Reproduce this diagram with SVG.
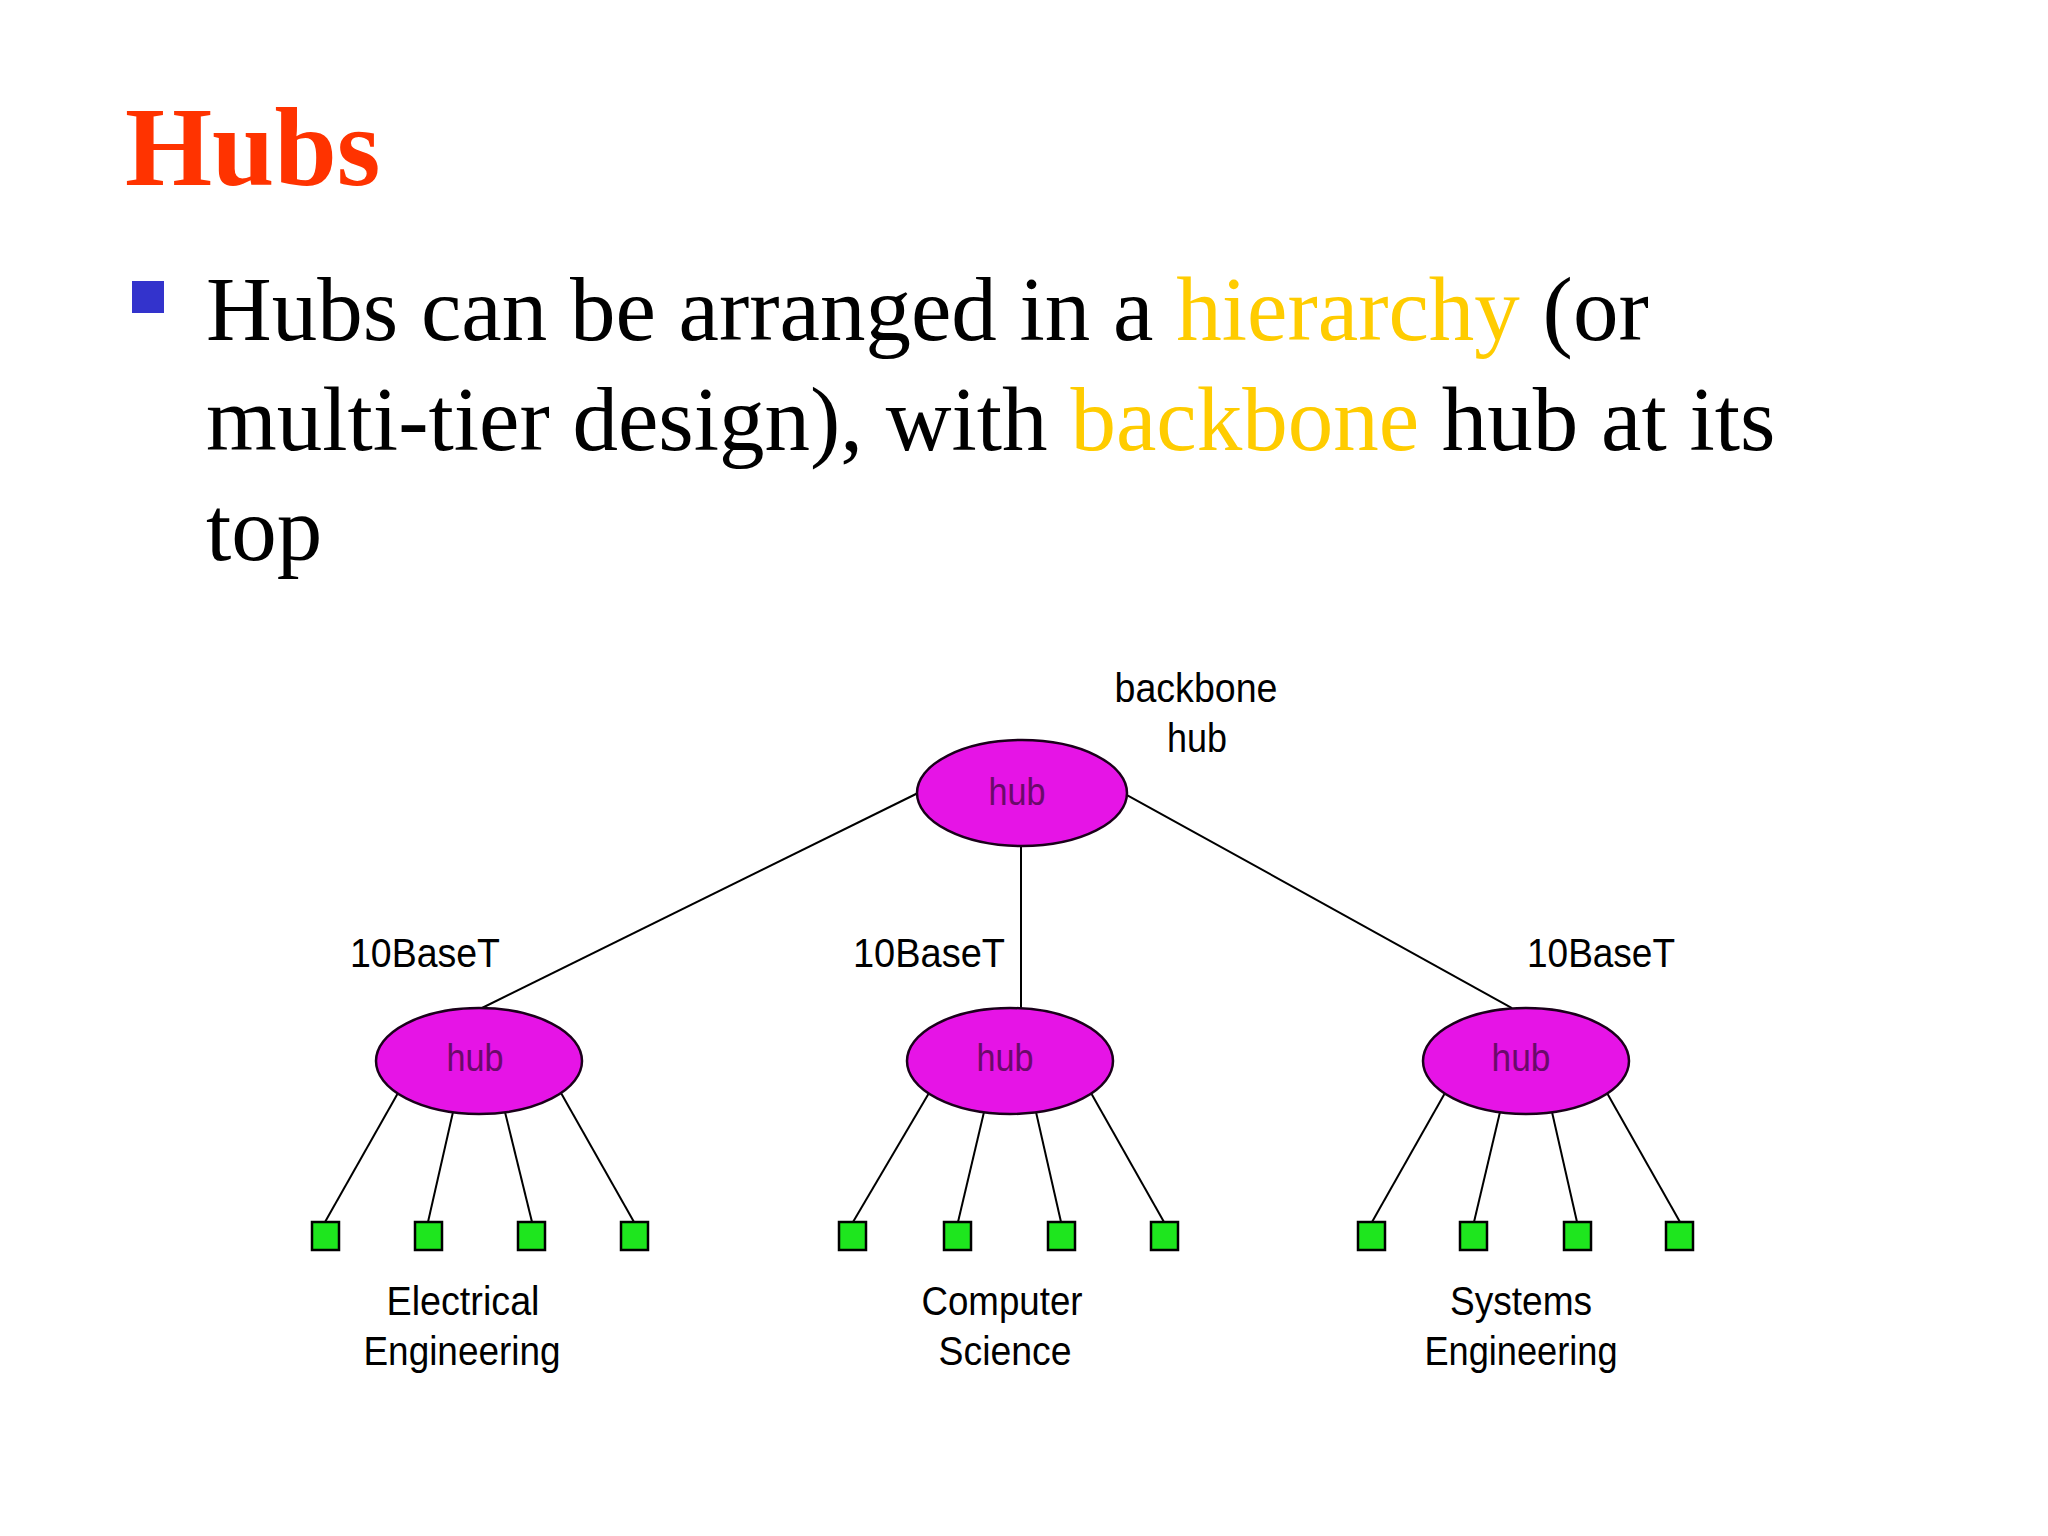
<svg xmlns="http://www.w3.org/2000/svg" width="2048" height="1536" viewBox="0 0 2048 1536">
<style>
.title{font-family:"Liberation Serif","Times New Roman",serif;font-weight:bold;font-size:112px;fill:#FF3300}
.body{font-family:"Liberation Serif","Times New Roman",serif;font-size:91px;fill:#000}
.hl{fill:#FFCC00}
.lbl{font-family:"Liberation Sans",Arial,sans-serif;font-size:40px;fill:#000}
.hubt{font-family:"Liberation Sans",Arial,sans-serif;font-size:39px;fill:#6A0A6A;text-anchor:middle}
.hub{fill:#E614E6;stroke:#1A001A;stroke-width:2.5}
.pc{fill:#1EE61E;stroke:#000;stroke-width:2.5}
.ln{stroke:#000;stroke-width:2;fill:none}
</style>
<rect width="2048" height="1536" fill="#fff"/>
<text class="title" x="125" y="185">Hubs</text>
<rect x="132" y="281" width="32" height="32" fill="#3333CC"/>
<text class="body" x="206" y="340">Hubs can be arranged in a <tspan class="hl">hierarchy</tspan> (or</text>
<text class="body" x="206" y="450">multi-tier design), with <tspan class="hl">backbone</tspan> hub at its</text>
<text class="body" x="206" y="560">top</text>

<g id="connectors">
<line class="ln" x1="918" y1="793" x2="482" y2="1008"/>
<line class="ln" x1="1021" y1="846" x2="1021" y2="1008"/>
<line class="ln" x1="1127" y1="795" x2="1512" y2="1008"/>
<line class="ln" x1="398" y1="1093" x2="325" y2="1222"/>
<line class="ln" x1="453" y1="1112" x2="428" y2="1222"/>
<line class="ln" x1="505" y1="1112" x2="532" y2="1222"/>
<line class="ln" x1="561" y1="1093" x2="634" y2="1222"/>
<line class="ln" x1="929" y1="1093" x2="853" y2="1222"/>
<line class="ln" x1="984" y1="1112" x2="958" y2="1222"/>
<line class="ln" x1="1036" y1="1112" x2="1061" y2="1222"/>
<line class="ln" x1="1091" y1="1093" x2="1164" y2="1222"/>
<line class="ln" x1="1445" y1="1093" x2="1372" y2="1222"/>
<line class="ln" x1="1500" y1="1112" x2="1474" y2="1222"/>
<line class="ln" x1="1552" y1="1112" x2="1577" y2="1222"/>
<line class="ln" x1="1607" y1="1093" x2="1680" y2="1222"/>
</g>
<g id="label-backbone">
<text class="lbl" x="1196" y="702" text-anchor="middle" textLength="163" lengthAdjust="spacingAndGlyphs">backbone</text>
<text class="lbl" x="1197" y="752" text-anchor="middle" textLength="60" lengthAdjust="spacingAndGlyphs">hub</text>
</g>
<g id="labels-10baset">
<text class="lbl" x="350" y="967" textLength="150" lengthAdjust="spacingAndGlyphs">10BaseT</text>
<text class="lbl" x="853" y="967" textLength="152" lengthAdjust="spacingAndGlyphs">10BaseT</text>
<text class="lbl" x="1527" y="967" textLength="148" lengthAdjust="spacingAndGlyphs">10BaseT</text>
</g>
<g id="backbone-hub">
<ellipse class="hub" cx="1022" cy="793" rx="105" ry="53"/>
<text class="hubt" x="1017" y="805" textLength="57" lengthAdjust="spacingAndGlyphs">hub</text>
</g>
<g id="hub-ee">
<ellipse class="hub" cx="479" cy="1061" rx="103" ry="53"/>
<text class="hubt" x="475" y="1071" textLength="57" lengthAdjust="spacingAndGlyphs">hub</text>
</g>
<g id="hub-cs">
<ellipse class="hub" cx="1010" cy="1061" rx="103" ry="53"/>
<text class="hubt" x="1005" y="1071" textLength="57" lengthAdjust="spacingAndGlyphs">hub</text>
</g>
<g id="hub-se">
<ellipse class="hub" cx="1526" cy="1061" rx="103" ry="53"/>
<text class="hubt" x="1521" y="1071" textLength="59" lengthAdjust="spacingAndGlyphs">hub</text>
</g>
<g id="hosts-ee">
<rect class="pc" x="312" y="1222" width="27" height="28"/>
<rect class="pc" x="415" y="1222" width="27" height="28"/>
<rect class="pc" x="518" y="1222" width="27" height="28"/>
<rect class="pc" x="621" y="1222" width="27" height="28"/>
</g>
<g id="hosts-cs">
<rect class="pc" x="839" y="1222" width="27" height="28"/>
<rect class="pc" x="944" y="1222" width="27" height="28"/>
<rect class="pc" x="1048" y="1222" width="27" height="28"/>
<rect class="pc" x="1151" y="1222" width="27" height="28"/>
</g>
<g id="hosts-se">
<rect class="pc" x="1358" y="1222" width="27" height="28"/>
<rect class="pc" x="1460" y="1222" width="27" height="28"/>
<rect class="pc" x="1564" y="1222" width="27" height="28"/>
<rect class="pc" x="1666" y="1222" width="27" height="28"/>
</g>
<g id="label-ee">
<text class="lbl" x="463" y="1315" text-anchor="middle" textLength="153" lengthAdjust="spacingAndGlyphs">Electrical</text>
<text class="lbl" x="462" y="1365" text-anchor="middle" textLength="197" lengthAdjust="spacingAndGlyphs">Engineering</text>
</g>
<g id="label-cs">
<text class="lbl" x="1002" y="1315" text-anchor="middle" textLength="161" lengthAdjust="spacingAndGlyphs">Computer</text>
<text class="lbl" x="1005" y="1365" text-anchor="middle" textLength="133" lengthAdjust="spacingAndGlyphs">Science</text>
</g>
<g id="label-se">
<text class="lbl" x="1521" y="1315" text-anchor="middle" textLength="142" lengthAdjust="spacingAndGlyphs">Systems</text>
<text class="lbl" x="1521" y="1365" text-anchor="middle" textLength="193" lengthAdjust="spacingAndGlyphs">Engineering</text>
</g>
</svg>
